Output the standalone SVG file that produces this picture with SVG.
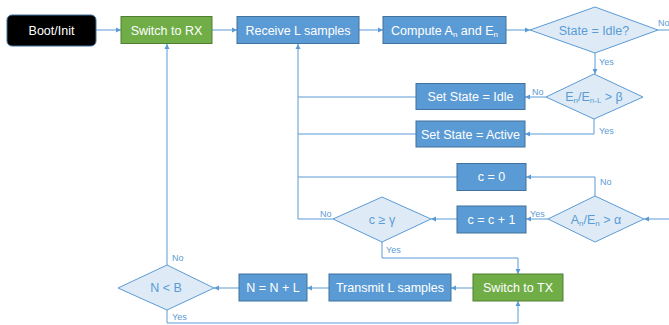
<svg xmlns="http://www.w3.org/2000/svg" width="669" height="325" viewBox="0 0 669 325">
<style>
.box{fill:#5B9BD5;stroke:#41719C;stroke-width:1}
.green{fill:#70AD47;stroke:#507E32;stroke-width:1}
.dia{fill:#DEEBF7;stroke:#5B9BD5;stroke-width:1}
.t{font-family:"Liberation Sans",Arial,sans-serif;font-size:12.5px;fill:#FFFFFF;text-anchor:middle;dominant-baseline:central}
.dt{font-family:"Liberation Sans",Arial,sans-serif;font-size:12.5px;fill:#5B9BD5;text-anchor:middle;dominant-baseline:central}
.lbl{font-family:"Liberation Sans",Arial,sans-serif;font-size:9px;fill:#5B9BD5}
.c{fill:none;stroke:#5B9BD5;stroke-width:1}
</style>
<defs>
<marker id="ah" markerWidth="6" markerHeight="6" refX="5" refY="3" orient="auto" markerUnits="userSpaceOnUse">
<path d="M0,0.5 L5,3 L0,5.5 Z" fill="#5B9BD5"/>
</marker>
</defs>
<rect width="669" height="325" fill="#FFFFFF"/>
<g id="connectors">
<path class="c" d="M96,30 H121" marker-end="url(#ah)"/>
<path class="c" d="M212,30 H237" marker-end="url(#ah)"/>
<path class="c" d="M359,30 H383" marker-end="url(#ah)"/>
<path class="c" d="M506,30 H530" marker-end="url(#ah)"/>
<path class="c" d="M658,30 H669"/>
<path class="c" d="M595,53 V74" marker-end="url(#ah)"/>
<path class="c" d="M546,97 H525" marker-end="url(#ah)"/>
<path class="c" d="M594,119 V134 H525" marker-end="url(#ah)"/>
<path class="c" d="M416,97 H298"/>
<path class="c" d="M416,134 H298"/>
<path class="c" d="M457,177 H298"/>
<path class="c" d="M333,219 H298 V44" marker-end="url(#ah)"/>
<path class="c" d="M669,219 H644" marker-end="url(#ah)"/>
<path class="c" d="M595,196 V177 H526" marker-end="url(#ah)"/>
<path class="c" d="M548,219 H526" marker-end="url(#ah)"/>
<path class="c" d="M457,219 H431" marker-end="url(#ah)"/>
<path class="c" d="M382,242 V258 H518 V274" marker-end="url(#ah)"/>
<path class="c" d="M473,288 H451" marker-end="url(#ah)"/>
<path class="c" d="M329,288 H307" marker-end="url(#ah)"/>
<path class="c" d="M239,288 H214" marker-end="url(#ah)"/>
<path class="c" d="M167,265 V44" marker-end="url(#ah)"/>
<path class="c" d="M167,310 V323 H518 V301" marker-end="url(#ah)"/>
<text class="lbl" x="658" y="26">No</text>
<text class="lbl" x="599" y="65">Yes</text>
<text class="lbl" x="532" y="95">No</text>
<text class="lbl" x="599" y="134">Yes</text>
<text class="lbl" x="600" y="185">No</text>
<text class="lbl" x="530" y="217">Yes</text>
<text class="lbl" x="320" y="217">No</text>
<text class="lbl" x="386" y="253">Yes</text>
<text class="lbl" x="172" y="261">No</text>
<text class="lbl" x="172" y="320">Yes</text>
</g>
<g id="boot">
<rect x="7" y="15" width="89" height="31" rx="5" fill="#000000" stroke="#41719C" stroke-width="1"/>
<text class="t" x="51.5" y="30.5">Boot/Init</text>
</g>
<g id="switch-rx">
<rect class="green" x="121" y="16.5" width="91" height="27"/>
<text class="t" x="166.5" y="30.5">Switch to RX</text>
</g>
<g id="receive">
<rect class="box" x="237" y="16.5" width="122" height="27"/>
<text class="t" x="298" y="30.5">Receive L samples</text>
</g>
<g id="compute">
<rect class="box" x="383" y="16.5" width="123" height="27"/>
<text class="t" x="444.5" y="30.5">Compute A<tspan dy="3" font-size="8">n</tspan><tspan dy="-3"> and E</tspan><tspan dy="3" font-size="8">n</tspan></text>
</g>
<g id="state-idle">
<polygon class="dia" points="595,7 658,30 595,53 530,30"/>
<text class="dt" x="594" y="30.5">State = Idle?</text>
</g>
<g id="energy-ratio">
<polygon class="dia" points="594,74 643,97 594,119 546,97"/>
<text class="dt" x="594" y="97">E<tspan dy="3" font-size="8">n</tspan><tspan dy="-3">/E</tspan><tspan dy="3" font-size="8">n-L</tspan><tspan dy="-3"> &gt; β</tspan></text>
</g>
<g id="set-idle">
<rect class="box" x="416" y="83.5" width="109" height="26"/>
<text class="t" x="470.5" y="97">Set State = Idle</text>
</g>
<g id="set-active">
<rect class="box" x="416" y="121" width="109" height="26"/>
<text class="t" x="470.5" y="134.5">Set State = Active</text>
</g>
<g id="c-zero">
<rect class="box" x="457" y="163.5" width="69" height="27"/>
<text class="t" x="491.5" y="177">c = 0</text>
</g>
<g id="alpha">
<polygon class="dia" points="595,196 644,219 595,242 548,219"/>
<text class="dt" x="596" y="219.5">A<tspan dy="3" font-size="8">n</tspan><tspan dy="-3">/E</tspan><tspan dy="3" font-size="8">n</tspan><tspan dy="-3"> &gt; α</tspan></text>
</g>
<g id="c-inc">
<rect class="box" x="457" y="206" width="69" height="27"/>
<text class="t" x="491.5" y="219.5">c = c + 1</text>
</g>
<g id="gamma">
<polygon class="dia" points="382,197 431,219 382,242 333,219"/>
<text class="dt" x="382" y="219.5">c ≥ γ</text>
</g>
<g id="switch-tx">
<rect class="green" x="473" y="274" width="90" height="27"/>
<text class="t" x="518" y="288">Switch to TX</text>
</g>
<g id="transmit">
<rect class="box" x="329" y="274" width="122" height="27"/>
<text class="t" x="390" y="288">Transmit L samples</text>
</g>
<g id="n-inc">
<rect class="box" x="239" y="274" width="68" height="27"/>
<text class="t" x="273" y="288">N = N + L</text>
</g>
<g id="n-lt-b">
<polygon class="dia" points="167,265 214,288 167,310 118,288"/>
<text class="dt" x="166" y="288">N &lt; B</text>
</g>
</svg>
